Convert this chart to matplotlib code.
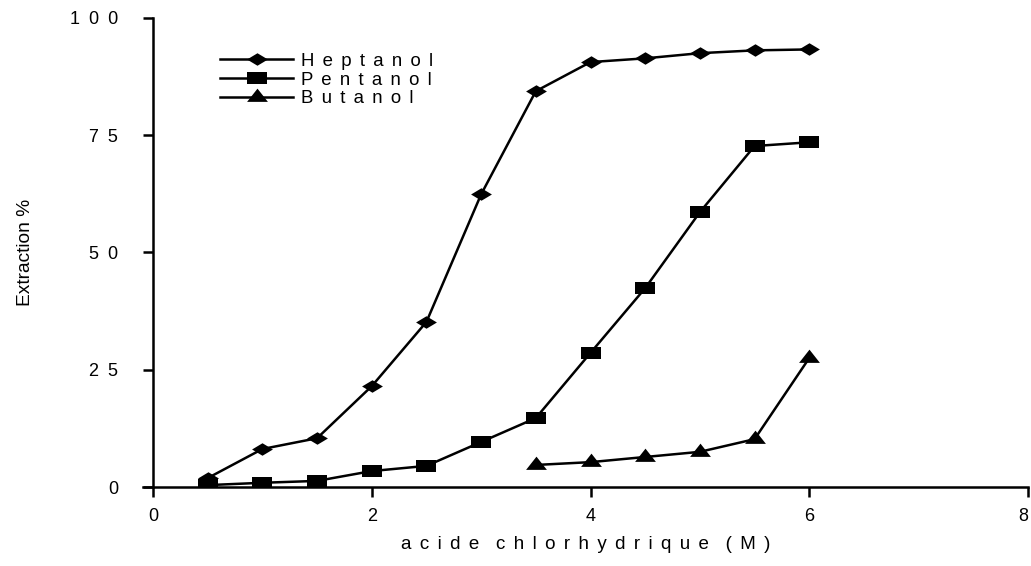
import numpy as np
import matplotlib.pyplot as plt
from matplotlib.path import Path

plt.rcParams['font.family'] = ['Liberation Sans', 'DejaVu Sans']

# HCl concentration (M) and extraction yields (%)
hcl = [0.5, 1.0, 1.5, 2.0, 2.5, 3.0, 3.5, 4.0, 4.5, 5.0, 5.5, 6.0]
heptanol = [1.9, 8.1, 10.4, 21.5, 35.2, 62.4, 84.4, 90.6, 91.4, 92.5, 93.1, 93.3]
pentanol = [0.4, 0.9, 1.3, 3.4, 4.5, 9.6, 14.7, 28.6, 42.4, 58.6, 72.7, 73.5]
hcl_but = [3.5, 4.0, 4.5, 5.0, 5.5, 6.0]
butanol = [4.7, 5.3, 6.4, 7.5, 10.2, 27.5]

x_ticks = [0, 2, 4, 6, 8]
y_ticks = [0, 25, 50, 75, 100]

EN = "\u2002"
NARROW = " \u2006"


def spaced(s, gap=EN):
    # wide letter spacing, a bit more between words
    words = [gap.join(w) for w in str(s).split()]
    return (gap + " \u2006").join(words)


# flattened markers
diamond = Path([(-1, 0), (0, 0.6), (1, 0), (0, -0.6), (-1, 0)])
rect = Path([(-1, -0.62), (1, -0.62), (1, 0.62), (-1, 0.62), (-1, -0.62)])
tri = Path([(-1, -0.42), (1, -0.42), (0, 0.85), (-1, -0.42)])

fig = plt.figure(figsize=(10.31, 5.66), dpi=100)
x0, x8 = 153, 1028
unit = (x8 - x0) / 8
left_px = x0 - 0.091 * unit
ax = fig.add_axes([left_px / 1031, 79 / 566, (x8 - left_px) / 1031, (487 - 18) / 566])

kw = dict(color="black", lw=1.8, markersize=15, markeredgewidth=0)
ax.plot(hcl, heptanol, marker=diamond, label=spaced("Heptanol", NARROW), **kw)
ax.plot(hcl, pentanol, marker=rect, label=spaced("Pentanol", NARROW), **kw)
ax.plot(hcl_but, butanol, marker=tri, label=spaced("Butanol", NARROW), **kw)

ax.set_xlim(-0.091, 8)
ax.set_ylim(0, 100)
for side in ["top", "right"]:
    ax.spines[side].set_visible(False)
ax.spines["left"].set_position(("data", 0))
for side in ["left", "bottom"]:
    ax.spines[side].set_linewidth(1.8)

ax.set_xticks(x_ticks)
ax.set_xticklabels([spaced(t) for t in x_ticks])
ax.get_xticklabels()[-1].set_ha("right")
ax.set_yticks(y_ticks)
ax.set_yticklabels([spaced(t) for t in y_ticks])
ax.tick_params(axis="both", direction="out", length=7, width=1.8, labelsize=13)
ax.tick_params(axis="y", pad=18)
ax.tick_params(axis="x", pad=8)

ax.set_xlabel(spaced("acide chlorhydrique (M)", NARROW), fontsize=13.5, labelpad=8)
ax.set_ylabel("Extraction %", fontsize=13.8, labelpad=26)

leg = ax.legend(loc="upper left", bbox_to_anchor=(0.077, 0.946), frameon=False,
                fontsize=13.4, handlelength=3.9, handletextpad=0.43,
                labelspacing=0.1, borderpad=0)

fig.savefig("out.png", dpi=100)
